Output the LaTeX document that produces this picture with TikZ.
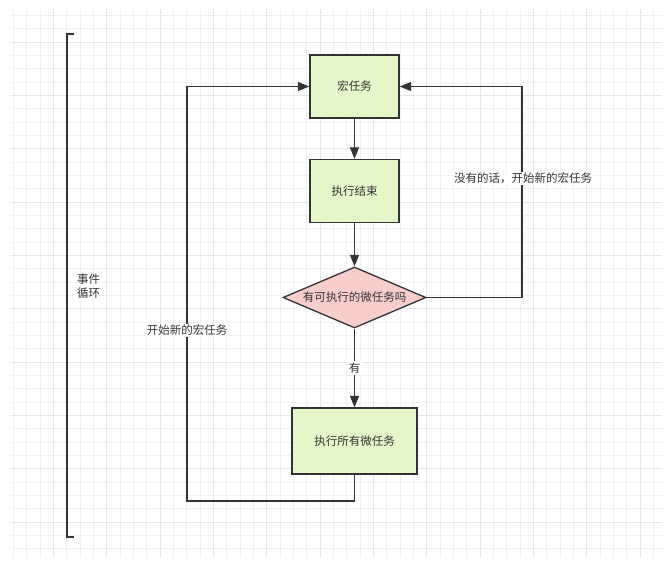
\documentclass[tikz,border=0pt]{standalone}
\usepackage{fontspec}
\setmainfont{Noto Sans CJK SC}
\usetikzlibrary{shapes.geometric,arrows.meta}
\definecolor{linegray}{HTML}{333333}
\definecolor{textgray}{HTML}{333333}
\definecolor{boxgreen}{HTML}{E4F7C8}
\definecolor{diapink}{HTML}{F8CDCC}
\definecolor{gridminor}{HTML}{F1F1F1}
\definecolor{gridmajor}{HTML}{E6E6E6}
\tikzset{
  taskbox/.style={draw=linegray, line width=1.3pt, fill=boxgreen, rectangle,
    inner sep=0pt, font=\fontsize{11.5}{14}\selectfont, text=textgray},
  decision/.style={draw=linegray, line width=1.3pt, fill=diapink, diamond,
    aspect=2.34, inner sep=0pt, minimum width=143pt, minimum height=61pt,
    font=\fontsize{11.5}{14}\selectfont, text=textgray},
  flow/.style={draw=linegray, line width=1.2pt,
    -{Triangle[length=11.5pt,width=9pt]}},
  loopline/.style={draw=linegray, line width=1.2pt},
  edgelabel/.style={fill=white, inner sep=1.5pt,
    font=\fontsize{11.5}{14}\selectfont, text=textgray},
  plain/.style={inner sep=0pt, font=\fontsize{11.5}{14}\selectfont, text=textgray}
}
\begin{document}
\begin{tikzpicture}[x=1pt,y=-1pt]
  \useasboundingbox (0,0) rectangle (665,578);
  \fill[white] (0,0) rectangle (665,578);
  % background grid
  \begin{scope}
    \clip (10,10) rectangle (662,557);
    \foreach \i in {0,...,50} {
      \draw[gridminor, line width=0.8pt] ({13.333*\i},0) -- ({13.333*\i},578);
    }
    \foreach \i in {-3,...,42} {
      \draw[gridminor, line width=0.8pt] (0,{42+13.333*\i}) -- (665,{42+13.333*\i});
    }
    \foreach \i in {0,...,12} {
      \draw[gridmajor, line width=0.9pt] ({53.333*\i},0) -- ({53.333*\i},578);
    }
    \foreach \i in {-1,...,10} {
      \draw[gridmajor, line width=0.9pt] (0,{42+53.333*\i}) -- (665,{42+53.333*\i});
    }
  \end{scope}

  % event-loop bracket and its label
  \coordinate (bt) at (74,34);
  \coordinate (bb) at (74,537);
  \draw[loopline] (bt) -- (67,34) -- (67,537) -- (bb);
  \node[plain, anchor=west, align=left] (loop) at (77,286) {事件\\循环};

  % flow nodes
  \node[taskbox, minimum width=89pt, minimum height=63pt] (macro) at (354.5,86.5) {宏任务};
  \node[taskbox, minimum width=89pt, minimum height=63pt] (done) at (354.5,191) {执行结束};
  \node[decision] (check) at (354.5,297.5) {有可执行的微任务吗};
  \node[taskbox, minimum width=125pt, minimum height=66pt] (micro) at (354.5,441) {执行所有微任务};

  % main flow
  \draw[flow] (macro) -- (done);
  \draw[flow] (done) -- (check);
  \draw[flow] (check) -- node[edgelabel, pos=0.5] (yes) {有} (micro);

  % loop back after running microtasks
  \coordinate (lb) at (187,501);
  \coordinate (lt) at (187,86.5);
  \draw[flow] (micro.south) |- (lb) -- (lt) -- (macro.west);
  \node[edgelabel] (leftlabel) at (187,330.5) {开始新的宏任务};

  % loop back when there are no microtasks
  \coordinate (rb) at (522,297.5);
  \coordinate (rt) at (522,86.5);
  \draw[flow] (check.east) -- (rb) -- (rt) -- (macro.east);
  \node[edgelabel] (rightlabel) at (523,178.5) {没有的话，开始新的宏任务};
\end{tikzpicture}
\end{document}
